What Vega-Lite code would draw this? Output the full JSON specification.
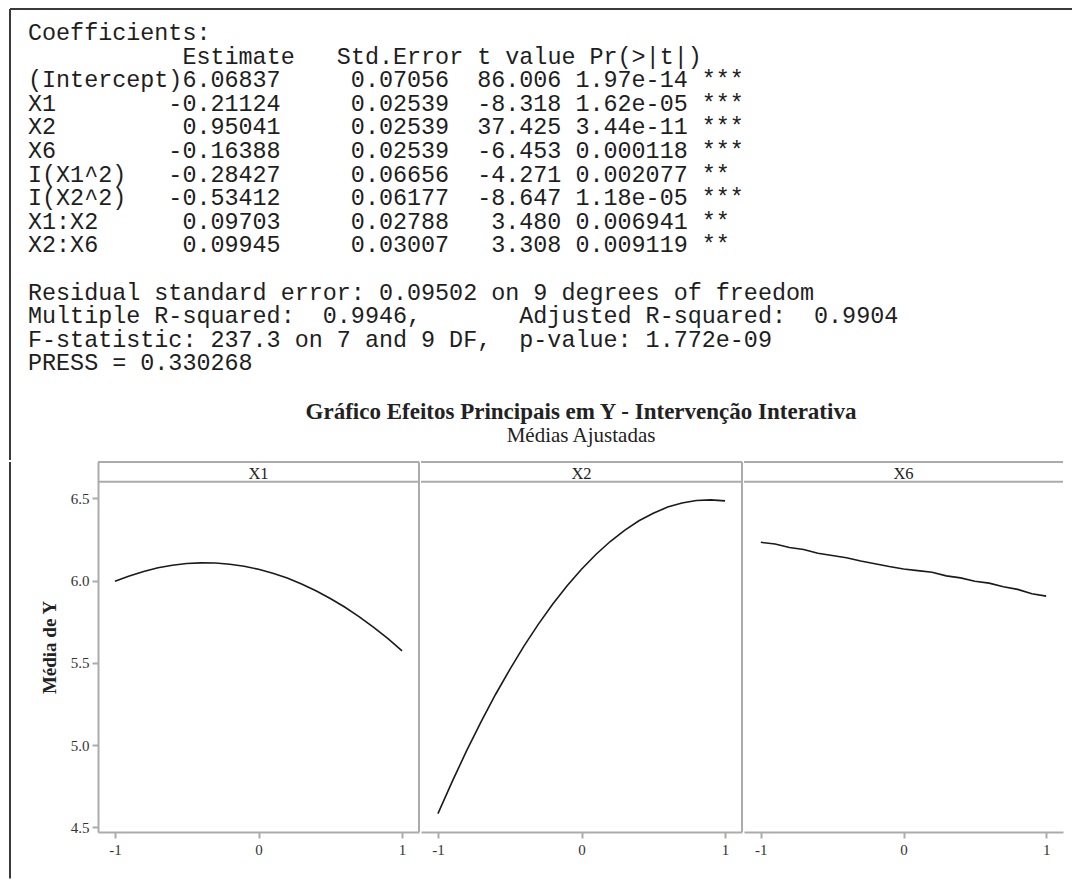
{
  "$schema": "https://vega.github.io/schema/vega-lite/v6.json",
  "padding": {"left": 8, "top": 8, "right": 0, "bottom": 0},
  "background": "white",
  "spacing": 0,
  "datasets": {
    "curves": [
      {"var": "X1", "x": -1.0, "y": 5.995}, {"var": "X1", "x": -0.9, "y": 6.028}, {"var": "X1", "x": -0.8, "y": 6.055},
      {"var": "X1", "x": -0.7, "y": 6.077}, {"var": "X1", "x": -0.6, "y": 6.093}, {"var": "X1", "x": -0.5, "y": 6.103},
      {"var": "X1", "x": -0.4, "y": 6.107}, {"var": "X1", "x": -0.3, "y": 6.106}, {"var": "X1", "x": -0.2, "y": 6.099},
      {"var": "X1", "x": -0.1, "y": 6.087}, {"var": "X1", "x": 0.0, "y": 6.068}, {"var": "X1", "x": 0.1, "y": 6.044},
      {"var": "X1", "x": 0.2, "y": 6.015}, {"var": "X1", "x": 0.3, "y": 5.979}, {"var": "X1", "x": 0.4, "y": 5.938},
      {"var": "X1", "x": 0.5, "y": 5.891}, {"var": "X1", "x": 0.6, "y": 5.839}, {"var": "X1", "x": 0.7, "y": 5.781},
      {"var": "X1", "x": 0.8, "y": 5.717}, {"var": "X1", "x": 0.9, "y": 5.648}, {"var": "X1", "x": 1.0, "y": 5.573},
      {"var": "X2", "x": -1.0, "y": 4.584}, {"var": "X2", "x": -0.9, "y": 4.780}, {"var": "X2", "x": -0.8, "y": 4.966},
      {"var": "X2", "x": -0.7, "y": 5.141}, {"var": "X2", "x": -0.6, "y": 5.306}, {"var": "X2", "x": -0.5, "y": 5.459},
      {"var": "X2", "x": -0.4, "y": 5.603}, {"var": "X2", "x": -0.3, "y": 5.735}, {"var": "X2", "x": -0.2, "y": 5.857},
      {"var": "X2", "x": -0.1, "y": 5.968}, {"var": "X2", "x": 0.0, "y": 6.068}, {"var": "X2", "x": 0.1, "y": 6.158},
      {"var": "X2", "x": 0.2, "y": 6.237}, {"var": "X2", "x": 0.3, "y": 6.305}, {"var": "X2", "x": 0.4, "y": 6.363},
      {"var": "X2", "x": 0.5, "y": 6.409}, {"var": "X2", "x": 0.6, "y": 6.446}, {"var": "X2", "x": 0.7, "y": 6.471},
      {"var": "X2", "x": 0.8, "y": 6.486}, {"var": "X2", "x": 0.9, "y": 6.490}, {"var": "X2", "x": 1.0, "y": 6.484},
      {"var": "X6", "x": -1.0, "y": 6.232}, {"var": "X6", "x": -0.9, "y": 6.222}, {"var": "X6", "x": -0.8, "y": 6.200},
      {"var": "X6", "x": -0.7, "y": 6.188}, {"var": "X6", "x": -0.6, "y": 6.166}, {"var": "X6", "x": -0.5, "y": 6.152},
      {"var": "X6", "x": -0.4, "y": 6.138}, {"var": "X6", "x": -0.3, "y": 6.118}, {"var": "X6", "x": -0.2, "y": 6.102},
      {"var": "X6", "x": -0.1, "y": 6.085}, {"var": "X6", "x": 0.0, "y": 6.070}, {"var": "X6", "x": 0.1, "y": 6.060},
      {"var": "X6", "x": 0.2, "y": 6.050}, {"var": "X6", "x": 0.3, "y": 6.028}, {"var": "X6", "x": 0.4, "y": 6.016},
      {"var": "X6", "x": 0.5, "y": 5.995}, {"var": "X6", "x": 0.6, "y": 5.984}, {"var": "X6", "x": 0.7, "y": 5.962},
      {"var": "X6", "x": 0.8, "y": 5.946}, {"var": "X6", "x": 0.9, "y": 5.920}, {"var": "X6", "x": 1.0, "y": 5.905}
    ],
    "output": [
      {"row": 0, "col": 0, "txt": "Coefficients:"},
      {"row": 1, "col": 11, "txt": "Estimate\u00a0\u00a0\u00a0Std.Error\u00a0t\u00a0value\u00a0Pr(>|t|)"},
      {"row": 2, "col": 0, "txt": "(Intercept)6.06837\u00a0\u00a0\u00a0\u00a0\u00a00.07056\u00a0\u00a086.006\u00a01.97e-14\u00a0***"},
      {"row": 3, "col": 0, "txt": "X1\u00a0\u00a0\u00a0\u00a0\u00a0\u00a0\u00a0\u00a0-0.21124\u00a0\u00a0\u00a0\u00a0\u00a00.02539\u00a0\u00a0-8.318\u00a01.62e-05\u00a0***"},
      {"row": 4, "col": 0, "txt": "X2\u00a0\u00a0\u00a0\u00a0\u00a0\u00a0\u00a0\u00a0\u00a00.95041\u00a0\u00a0\u00a0\u00a0\u00a00.02539\u00a0\u00a037.425\u00a03.44e-11\u00a0***"},
      {"row": 5, "col": 0, "txt": "X6\u00a0\u00a0\u00a0\u00a0\u00a0\u00a0\u00a0\u00a0-0.16388\u00a0\u00a0\u00a0\u00a0\u00a00.02539\u00a0\u00a0-6.453\u00a00.000118\u00a0***"},
      {"row": 6, "col": 0, "txt": "I(X1^2)\u00a0\u00a0\u00a0-0.28427\u00a0\u00a0\u00a0\u00a0\u00a00.06656\u00a0\u00a0-4.271\u00a00.002077\u00a0**"},
      {"row": 7, "col": 0, "txt": "I(X2^2)\u00a0\u00a0\u00a0-0.53412\u00a0\u00a0\u00a0\u00a0\u00a00.06177\u00a0\u00a0-8.647\u00a01.18e-05\u00a0***"},
      {"row": 8, "col": 0, "txt": "X1:X2\u00a0\u00a0\u00a0\u00a0\u00a0\u00a00.09703\u00a0\u00a0\u00a0\u00a0\u00a00.02788\u00a0\u00a0\u00a03.480\u00a00.006941\u00a0**"},
      {"row": 9, "col": 0, "txt": "X2:X6\u00a0\u00a0\u00a0\u00a0\u00a0\u00a00.09945\u00a0\u00a0\u00a0\u00a0\u00a00.03007\u00a0\u00a0\u00a03.308\u00a00.009119\u00a0**"},
      {"row": 11, "col": 0, "txt": "Residual\u00a0standard\u00a0error:\u00a00.09502\u00a0on\u00a09\u00a0degrees\u00a0of\u00a0freedom"},
      {"row": 12, "col": 0, "txt": "Multiple\u00a0R-squared:\u00a0\u00a00.9946,\u00a0\u00a0\u00a0\u00a0\u00a0\u00a0\u00a0Adjusted\u00a0R-squared:\u00a0\u00a00.9904"},
      {"row": 13, "col": 0, "txt": "F-statistic:\u00a0237.3\u00a0on\u00a07\u00a0and\u00a09\u00a0DF,\u00a0\u00a0p-value:\u00a01.772e-09"},
      {"row": 14, "col": 0, "txt": "PRESS\u00a0=\u00a00.330268"}
    ]
  },
  "vconcat": [
    {
      "width": 974,
      "height": 451,
      "layer": [
        {
          "data": {"name": "output"},
          "mark": {"type": "text", "font": "Liberation Mono", "fontSize": 23.4, "align": "left", "baseline": "alphabetic", "color": "#1e1e1e"},
          "encoding": {
            "x": {"field": "col", "type": "quantitative", "scale": {"domain": [4.986, 74.359], "nice": false, "zero": false}, "axis": null},
            "y": {"field": "row", "type": "quantitative", "scale": {"domain": [-1.3136, 17.7966], "reverse": true, "nice": false, "zero": false}, "axis": null},
            "text": {"field": "txt", "type": "nominal"}
          }
        },
        {
          "data": {"values": [{"t": "Gráfico Efeitos Principais em Y - Intervenção Interativa"}]},
          "mark": {"type": "text", "font": "Liberation Serif", "fontSize": 23, "fontWeight": "bold", "align": "center", "baseline": "alphabetic", "color": "#222222"},
          "encoding": {
            "x": {"datum": 39.388, "type": "quantitative"},
            "y": {"datum": 16.059, "type": "quantitative"},
            "text": {"field": "t", "type": "nominal"}
          }
        },
        {
          "data": {"values": [{"t": "Médias Ajustadas"}]},
          "mark": {"type": "text", "font": "Liberation Serif", "fontSize": 21, "align": "center", "baseline": "alphabetic", "color": "#222222"},
          "encoding": {
            "x": {"datum": 39.388, "type": "quantitative"},
            "y": {"datum": 17.034, "type": "quantitative"},
            "text": {"field": "t", "type": "nominal"}
          }
        },
        {
          "data": {"values": [{}]},
          "mark": {"type": "rule", "color": "#3a3a3a", "strokeWidth": 2},
          "encoding": {
            "x": {"datum": -1.282, "type": "quantitative"},
            "x2": {"datum": 74.359},
            "y": {"datum": -1.3136, "type": "quantitative"}
          }
        },
        {
          "data": {"values": [{}]},
          "mark": {"type": "rule", "color": "#3a3a3a", "strokeWidth": 2},
          "encoding": {
            "x": {"datum": -1.282, "type": "quantitative"},
            "y": {"datum": -1.3136, "type": "quantitative"},
            "y2": {"datum": 17.7966}
          }
        }
      ]
    },
    {
      "spacing": 0,
      "resolve": {"scale": {"x": "independent", "y": "independent"}},
      "hconcat": [
        {
          "width": 321,
          "height": 370,
          "layer": [
            {
              "data": {"name": "curves"},
              "transform": [{"filter": "datum.var === 'X1'"}],
              "mark": {"type": "line", "color": "#1a1a1a", "strokeWidth": 1.6},
              "encoding": {
                "x": {"field": "x", "type": "quantitative", "scale": {"domain": [-1.118, 1.118], "nice": false, "zero": false},
                      "axis": {"values": [-1, 0, 1], "labelExpr": "'' + datum.value", "title": null, "grid": false, "domainColor": "#ababab", "domainWidth": 2, "tickColor": "#ababab", "tickWidth": 2, "tickSize": 6, "labelFont": "Liberation Serif", "labelFontSize": 15, "labelColor": "#333333", "labelPadding": 4}},
                "y": {"field": "y", "type": "quantitative", "scale": {"domain": [4.472, 6.72], "nice": false, "zero": false},
                      "axis": {"values": [4.5, 5, 5.5, 6, 6.5], "format": ".1f", "title": "Média de Y", "titleFont": "Liberation Serif", "titleFontSize": 19, "titleFontWeight": "bold", "titleColor": "#222222", "titlePadding": 11, "grid": false, "domainColor": "#ababab", "domainWidth": 2, "tickColor": "#ababab", "tickWidth": 2, "tickSize": 6, "labelFont": "Liberation Serif", "labelFontSize": 15, "labelColor": "#333333", "labelPadding": 3}}
              }
            },
            {
              "data": {"values": [{"label": "X1"}]},
              "mark": {"type": "text", "font": "Liberation Serif", "fontSize": 16.5, "align": "center", "baseline": "alphabetic", "color": "#222222"},
              "encoding": {"x": {"datum": 0, "type": "quantitative"}, "y": {"datum": 6.617, "type": "quantitative"}, "text": {"field": "label", "type": "nominal"}}
            },
            {
              "data": {"values": [{}]},
              "mark": {"type": "rule", "color": "#ababab", "strokeWidth": 2},
              "encoding": {"y": {"datum": 6.72, "type": "quantitative"}}
            },
            {
              "data": {"values": [{}]},
              "mark": {"type": "rule", "color": "#ababab", "strokeWidth": 2},
              "encoding": {"y": {"datum": 6.6, "type": "quantitative"}}
            },
            {
              "data": {"values": [{}]},
              "mark": {"type": "rule", "color": "#ababab", "strokeWidth": 2},
              "encoding": {"x": {"datum": 1.118, "type": "quantitative"}}
            },
            {
              "data": {"values": [{}]},
              "mark": {"type": "rule", "color": "#3a3a3a", "strokeWidth": 2},
              "encoding": {"x": {"datum": -1.731, "type": "quantitative"}, "y": {"datum": 6.72, "type": "quantitative"}, "y2": {"datum": 4.19}}
            }
          ]
        },
        {
          "width": 321,
          "height": 370,
          "layer": [
            {
              "data": {"name": "curves"},
              "transform": [{"filter": "datum.var === 'X2'"}],
              "mark": {"type": "line", "color": "#1a1a1a", "strokeWidth": 1.6},
              "encoding": {
                "x": {"field": "x", "type": "quantitative", "scale": {"domain": [-1.118, 1.118], "nice": false, "zero": false},
                      "axis": {"values": [-1, 0, 1], "labelExpr": "'' + datum.value", "title": null, "grid": false, "domainColor": "#ababab", "domainWidth": 2, "tickColor": "#ababab", "tickWidth": 2, "tickSize": 6, "labelFont": "Liberation Serif", "labelFontSize": 15, "labelColor": "#333333", "labelPadding": 4}},
                "y": {"field": "y", "type": "quantitative", "scale": {"domain": [4.472, 6.72], "nice": false, "zero": false}, "axis": null}
              }
            },
            {
              "data": {"values": [{"label": "X2"}]},
              "mark": {"type": "text", "font": "Liberation Serif", "fontSize": 16.5, "align": "center", "baseline": "alphabetic", "color": "#222222"},
              "encoding": {"x": {"datum": 0, "type": "quantitative"}, "y": {"datum": 6.617, "type": "quantitative"}, "text": {"field": "label", "type": "nominal"}}
            },
            {
              "data": {"values": [{}]},
              "mark": {"type": "rule", "color": "#ababab", "strokeWidth": 2},
              "encoding": {"y": {"datum": 6.72, "type": "quantitative"}}
            },
            {
              "data": {"values": [{}]},
              "mark": {"type": "rule", "color": "#ababab", "strokeWidth": 2},
              "encoding": {"y": {"datum": 6.6, "type": "quantitative"}}
            },
            {
              "data": {"values": [{}]},
              "mark": {"type": "rule", "color": "#ababab", "strokeWidth": 2},
              "encoding": {"x": {"datum": 1.118, "type": "quantitative"}}
            }
          ]
        },
        {
          "width": 319,
          "height": 370,
          "layer": [
            {
              "data": {"name": "curves"},
              "transform": [{"filter": "datum.var === 'X6'"}],
              "mark": {"type": "line", "color": "#1a1a1a", "strokeWidth": 1.6},
              "encoding": {
                "x": {"field": "x", "type": "quantitative", "scale": {"domain": [-1.118, 1.118], "nice": false, "zero": false},
                      "axis": {"values": [-1, 0, 1], "labelExpr": "'' + datum.value", "title": null, "grid": false, "domainColor": "#ababab", "domainWidth": 2, "tickColor": "#ababab", "tickWidth": 2, "tickSize": 6, "labelFont": "Liberation Serif", "labelFontSize": 15, "labelColor": "#333333", "labelPadding": 4}},
                "y": {"field": "y", "type": "quantitative", "scale": {"domain": [4.472, 6.72], "nice": false, "zero": false}, "axis": null}
              }
            },
            {
              "data": {"values": [{"label": "X6"}]},
              "mark": {"type": "text", "font": "Liberation Serif", "fontSize": 16.5, "align": "center", "baseline": "alphabetic", "color": "#222222"},
              "encoding": {"x": {"datum": 0, "type": "quantitative"}, "y": {"datum": 6.617, "type": "quantitative"}, "text": {"field": "label", "type": "nominal"}}
            },
            {
              "data": {"values": [{}]},
              "mark": {"type": "rule", "color": "#ababab", "strokeWidth": 2},
              "encoding": {"y": {"datum": 6.72, "type": "quantitative"}}
            },
            {
              "data": {"values": [{}]},
              "mark": {"type": "rule", "color": "#ababab", "strokeWidth": 2},
              "encoding": {"y": {"datum": 6.6, "type": "quantitative"}}
            }
          ]
        }
      ]
    }
  ],
  "config": {
    "view": {"stroke": null},
    "axis": {"grid": false}
  }
}
